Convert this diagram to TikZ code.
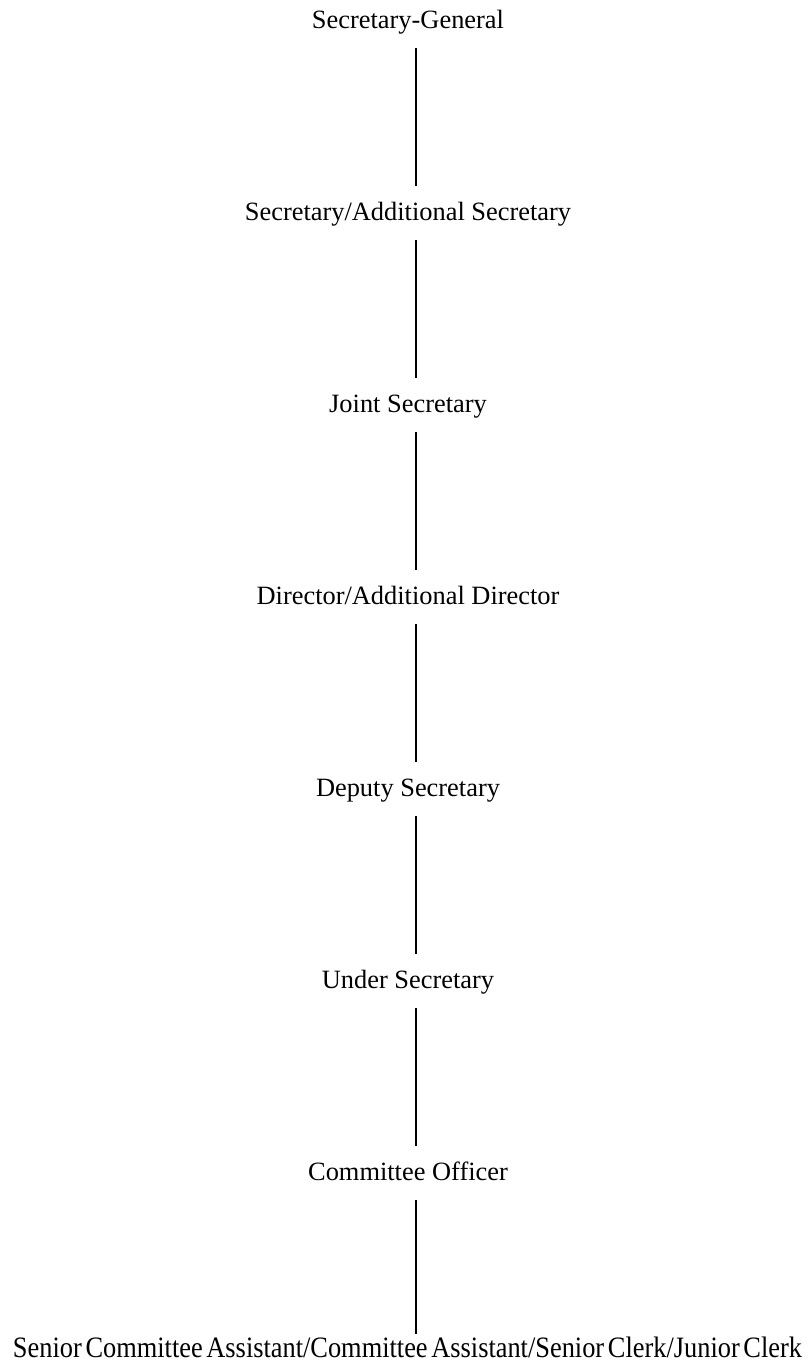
\documentclass[tikz,border=0pt]{standalone}
\usepackage{fontspec}
\setmainfont{Liberation Serif}
\usepackage{graphicx}
\usetikzlibrary{positioning}

\begin{document}
\begin{tikzpicture}[x=0.5pt, y=-0.5pt, line/.style = {line width=0.6pt}]
		\tikzset{rank/.style={inner xsep=0pt, inner ysep=5pt, text height=12pt, text depth=5pt, anchor=base, font=\fontsize{13.2}{15}\selectfont}}

		\useasboundingbox (0,0) rectangle (809,1362);

		% Ranks
		\node[rank] (sg) at (408,28) {Secretary-General};

		\node[rank] (secy) at (408,220) {Secretary/Additional Secretary};

		\node[rank] (jsecy) at (408,412) {Joint Secretary};

		\node[rank] (dir) at (408,604) {Director/Additional Director};

		\node[rank] (dsecy) at (408,796) {Deputy Secretary};

		\node[rank] (usecy) at (408,988) {Under Secretary};

		\node[rank] (co) at (408,1180) {Committee Officer};

		\node[rank, text height=6.5pt, font=\fontsize{14.8}{16}\selectfont] (staff) at (407.5,1357) {\resizebox{394.5pt}{\height}{\spaceskip=0.14em Senior Committee Assistant/Committee Assistant/Senior Clerk/Junior Clerk}};

		% Lines
		\draw [line] ([xshift=4pt]sg.south) -- ([xshift=4pt]sg.south |- secy.north);
		\draw [line] ([xshift=4pt]secy.south) -- ([xshift=4pt]secy.south |- jsecy.north);
		\draw [line] ([xshift=4pt]jsecy.south) -- ([xshift=4pt]jsecy.south |- dir.north);
		\draw [line] ([xshift=4pt]dir.south) -- ([xshift=4pt]dir.south |- dsecy.north);
		\draw [line] ([xshift=4pt]dsecy.south) -- ([xshift=4pt]dsecy.south |- usecy.north);
		\draw [line] ([xshift=4pt]usecy.south) -- ([xshift=4pt]usecy.south |- co.north);
		\draw [line] ([xshift=4pt]co.south) -- ([xshift=4pt]co.south |- staff.north);

	\end{tikzpicture}
\end{document}
